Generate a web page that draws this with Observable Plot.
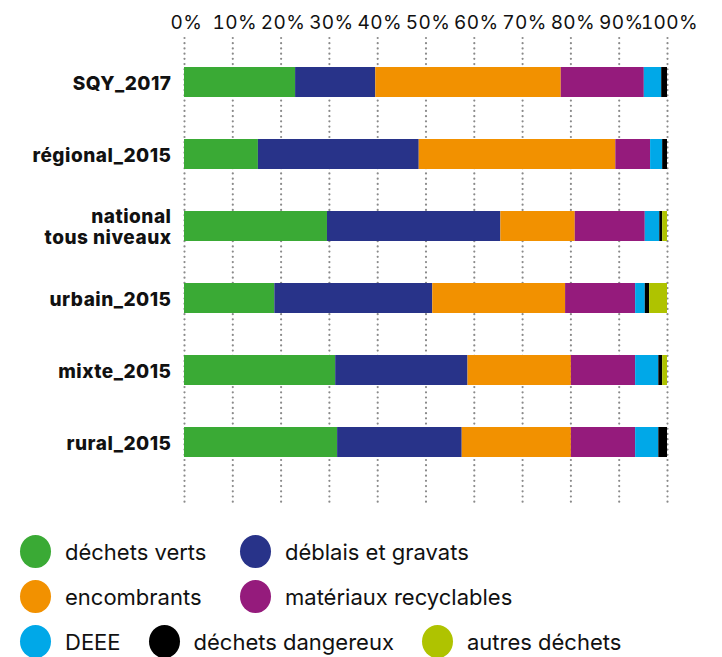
<!DOCTYPE html>
<html>
<head>
<meta charset="utf-8">
<script src="https://cdn.jsdelivr.net/npm/d3@7"></script>
<script src="https://cdn.jsdelivr.net/npm/@observablehq/plot@0.6"></script>
<style>
  body { margin: 0; background: #fff; font-family: Inter, "Liberation Sans", sans-serif; color: #111; }
  #legend { margin-top: 14px; font-size: 22px; }
  .row { display: flex; align-items: center; height: 45px; padding-left: 20px; }
  .item { display: flex; align-items: center; }
  .sw { width: 31px; height: 33px; border-radius: 50%; margin-right: 14px; flex: none; }
</style>
</head>
<body>
<div id="chart"></div>
<div id="legend"></div>
<script>
const categories = ["SQY_2017", "régional_2015", "national\ntous niveaux", "urbain_2015", "mixte_2015", "rural_2015"];
const types = ["déchets verts", "déblais et gravats", "encombrants", "matériaux recyclables", "DEEE", "déchets dangereux", "autres déchets"];
const colors = ["#3aaa35", "#283389", "#f29100", "#951b7c", "#00a8e8", "#000000", "#afc300"];
const xTicks = [0, 10, 20, 30, 40, 50, 60, 70, 80, 90, 100];

// values per type, in order of categories (%)
const dechetsVerts     = [23.0, 15.3, 29.6, 18.7, 31.3, 31.7];
const deblaisGravats   = [16.6, 33.3, 35.9, 32.7, 27.4, 25.8];
const encombrants      = [38.4, 40.7, 15.4, 27.5, 21.4, 22.6];
const materiaux        = [17.2,  7.2, 14.5, 14.5, 13.3, 13.3];
const deee             = [ 3.6,  2.5,  3.0,  2.0,  4.8,  4.8];
const dangereux        = [ 1.2,  1.0,  0.6,  0.9,  0.8,  1.8];
const autres           = [ 0.0,  0.0,  1.0,  3.7,  1.0,  0.0];

const series = [dechetsVerts, deblaisGravats, encombrants, materiaux, deee, dangereux, autres];
const data = [];
categories.forEach((c, i) => types.forEach((t, j) => {
  if (series[j][i] > 0) data.push({cat: c, type: t, value: series[j][i]});
}));

const chart = Plot.plot({
  width: 722,
  height: 515,
  marginTop: 38,
  marginBottom: 10,
  marginLeft: 184,
  marginRight: 55,
  style: {fontFamily: "Inter, 'Liberation Sans', sans-serif", color: "#111", overflow: "visible"},
  x: {domain: [0, 100]},
  y: {domain: categories, paddingInner: 0.58, paddingOuter: 0.493, align: 0.38},
  color: {domain: types, range: colors},
  marks: [
    Plot.gridX(xTicks, {stroke: "#8a8a8a", strokeOpacity: 1, strokeWidth: 2.2, strokeDasharray: "0.01,5.2", strokeLinecap: "round"}),
    Plot.barX(data, Plot.stackX({x: "value", y: "cat", fill: "type", order: types})),
    Plot.axisX(xTicks, {anchor: "top", tickSize: 0, tickPadding: 10, dx: 2, fontSize: 19, tickFormat: d => d + "%", label: null}),
    Plot.axisY({tickSize: 0, tickPadding: 13, fontSize: 19, fontWeight: 800, lineHeight: 1.15, label: null})
  ]
});
d3.select(chart).selectAll('[aria-label="x-axis tick label"]').style("letter-spacing", "0.4px");
d3.select(chart).selectAll('[aria-label="y-axis tick label"]').style("letter-spacing", "0.5px");
document.getElementById("chart").appendChild(chart);

const rows = [[0, 1], [2, 3], [4, 5, 6]];
const legend = document.getElementById("legend");
rows.forEach((r, ri) => {
  const row = document.createElement("div");
  row.className = "row";
  r.forEach((j, k) => {
    const it = document.createElement("div");
    it.className = "item";
    if (ri < 2 && k === 0) it.style.width = "220px";
    else if (k < r.length - 1) it.style.marginRight = "28px";
    const sw = document.createElement("div");
    sw.className = "sw";
    sw.style.background = colors[j];
    const tx = document.createElement("span");
    tx.textContent = types[j];
    it.appendChild(sw); it.appendChild(tx);
    row.appendChild(it);
  });
  legend.appendChild(row);
});
</script>
</body>
</html>
